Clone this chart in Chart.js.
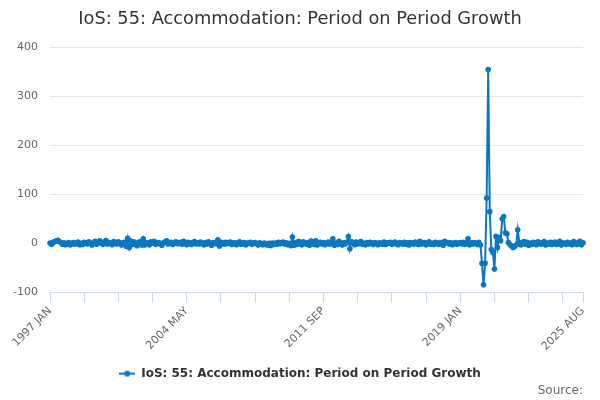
<!DOCTYPE html>
<html>
<head>
<meta charset="utf-8">
<script src="https://cdn.jsdelivr.net/npm/chart.js@4"></script>
<style>
  html, body { margin: 0; padding: 0; background: #fff; }
  #wrap { width: 600px; height: 400px; }
</style>
</head>
<body>
<div id="wrap"><canvas id="chart"></canvas></div>
<script>
const title = 'IoS: 55: Accommodation: Period on Period Growth';
const years = [1997, 1998, 1999, 2000, 2001, 2002, 2003, 2004, 2005, 2006, 2007, 2008, 2009, 2010,
  2011, 2012, 2013, 2014, 2015, 2016, 2017, 2018, 2019, 2020, 2021, 2022, 2023, 2024, 2025];
const months = ['JAN', 'FEB', 'MAR', 'APR', 'MAY', 'JUN', 'JUL', 'AUG', 'SEP', 'OCT', 'NOV', 'DEC'];
const lastMonth = 8; // series ends 2025 AUG

// monthly growth, one row per year
const growth = [
  1.0, -1.6, 2.4, 4.2, 5.0, 6.8, 4.1, 2.0, -1.2, 1.6, -2.4, -0.8,
  1.8, -3.0, 0.6, 2.2, -1.4, 0.8, 3.2, -2.2, 0.4, -1.8, 2.6, 1.2,
  -0.6, 3.6, 1.4, -2.8, 1.0, 4.4, -1.2, 2.0, 5.5, 0.8, -1.6, 3.0,
  6.0, -1.0, 2.2, 0.6, -2.4, 4.0, 1.6, -0.8, 3.4, 0.4, -3.2, 1.8,
  2.8, -5.5, 10.5, -8.0, 5.2, -2.0, 3.6, -1.4, -4.5, 2.4, 3.6, -2.8,
  9.6, -2.8, 2.0, 0.8, -2.6, 3.8, 1.2, 4.8, -1.6, 0.6, 2.2, -1.0,
  -3.4, 1.6, 3.0, 5.4, -0.8, 1.8, 2.6, -2.0, 1.2, 3.6, -0.4, 1.4,
  2.4, -1.2, 4.6, 0.2, -2.2, 2.8, 1.0, -1.8, 2.0, 4.0, -0.6, 1.6,
  -0.8, 3.2, 0.4, -2.6, 1.8, -1.0, 3.4, 0.8, -3.6, 2.2, 1.2, -0.4,
  7.8, -5.2, 2.4, 1.0, -1.4, 2.6, -0.4, 1.8, 3.0, -2.0, 0.8, 1.6,
  -2.4, 1.4, 3.8, -1.2, 0.6, 2.0, -3.0, 1.2, 0.4, 2.8, -1.6, 1.0,
  2.2, -0.6, -3.2, 1.6, -0.8, -2.4, 1.0, -1.8, -2.8, 0.6, -4.0, 1.2,
  -2.0, 0.8, -1.4, 2.4, -0.4, 1.8, 3.0, -1.0, 1.6, -2.2, 0.6, -4.2,
  13.5, -3.4, 2.0, -1.6, 4.4, 1.2, -2.6, 3.6, 0.8, -1.2, 2.2, -3.5,
  5.0, 0.4, -1.8, 5.6, -2.8, 1.4, 2.6, -1.0, 1.8, -2.4, 0.8, 3.2,
  -1.4, 2.0, 9.5, -3.4, 1.2, -2.0, 4.8, 1.0, -3.2, 1.6, -0.6, 2.4,
  14.2, -10.5, 4.0, 1.6, -2.2, 3.0, -0.8, 1.8, 4.2, -1.6, 0.6, -2.6,
  2.0, -1.0, 2.8, 0.4, -1.8, 2.2, 1.2, -2.4, 1.6, 0.6, -1.2, 3.0,
  -2.0, 1.4, 0.8, 2.4, -1.6, 1.0, 3.2, -0.6, -2.2, 1.8, 0.4, -1.0,
  2.6, -1.2, 1.6, -2.8, 2.0, 0.6, -1.4, 3.0, 0.2, -1.8, 4.4, -0.8,
  1.2, 2.2, -2.6, 0.8, 3.6, -1.2, 0.4, -2.0, 2.4, 1.0, -1.6, 1.8,
  -1.0, -3.6, 4.8, 1.4, 2.2, -0.8, 1.6, -2.4, 0.6, 2.0, -1.2, 0.4,
  1.8, -0.6, 2.8, -1.6, 1.0, 9.8, -3.0, 1.4, -1.0, 2.2, 0.4, -1.8,
  2.4, -3.0, -40.5, -84.0, -40.0, 93.0, 355.0, 65.0, -12.0, -18.0, -52.0, 15.0,
  -8.0, 12.0, 6.0, 50.0, 55.0, 22.0, 20.0, 2.0, -2.0, -5.0, -8.0, -6.0,
  -3.0, 28.0, 2.0, -3.0, 1.6, 4.0, -1.2, 2.4, -3.6, 0.8, -1.8, 2.6,
  1.0, -2.2, 3.6, 0.6, -1.4, 2.0, 4.2, -2.8, 1.2, -0.8, 2.4, -1.8,
  1.6, 3.0, -2.0, 0.8, 4.6, -3.2, 1.4, 0.4, -1.6, 2.8, -0.6, 1.2,
  -2.4, 4.0, 1.0, -1.8, 2.2, 4.8, -2.6, 1.6
];

const labels = [];
years.forEach((y, i) => {
  const count = i === years.length - 1 ? lastMonth : 12;
  for (let m = 0; m < count; m++) labels.push(y + ' ' + months[m]);
});

const blue = '#0b77c0';
const fontFamily = '"DejaVu Sans", sans-serif';

// legend symbol: short line with a dot in the middle
const icon = document.createElement('canvas');
icon.width = 16; icon.height = 10;
const ic = icon.getContext('2d');
ic.strokeStyle = blue; ic.lineWidth = 2;
ic.beginPath(); ic.moveTo(0, 5); ic.lineTo(16, 5); ic.stroke();
ic.fillStyle = blue;
ic.beginPath(); ic.arc(8, 5, 3, 0, Math.PI * 2); ic.fill();

const tickEvery = 22;
const labelEvery = 88;

new Chart(document.getElementById('chart'), {
  type: 'line',
  data: {
    labels: labels,
    datasets: [{
      label: title,
      data: growth,
      borderColor: blue,
      backgroundColor: blue,
      borderWidth: 2,
      pointRadius: 1.8,
      pointHoverRadius: 3,
      tension: 0
    }]
  },
  options: {
    responsive: true,
    maintainAspectRatio: false,
    animation: false,
    layout: { padding: { left: 17, right: 17, top: 3, bottom: 2 } },
    plugins: {
      title: {
        display: true,
        text: title,
        color: '#333333',
        font: { family: fontFamily, size: 17.8, weight: 'normal' },
        padding: { top: 6, bottom: 17 }
      },
      subtitle: {
        display: true,
        text: 'Source:',
        position: 'bottom',
        align: 'end',
        color: '#666666',
        font: { family: fontFamily, size: 12, weight: 'normal' },
        padding: { top: -6, bottom: 0 }
      },
      legend: {
        position: 'bottom',
        labels: {
          usePointStyle: true,
          pointStyle: icon,
          pointStyleWidth: 16,
          color: '#333333',
          font: { family: fontFamily, size: 12, weight: 'bold' },
          padding: 0
        }
      },
      tooltip: { enabled: false }
    },
    scales: {
      x: {
        type: 'category',
        offset: false,
        border: { color: '#ccd6eb' },
        grid: { drawOnChartArea: false, drawTicks: true, tickLength: 10, color: '#ccd6eb' },
        afterBuildTicks: scale => {
          const n = labels.length;
          scale.ticks = scale.ticks.filter(t => t.value % tickEvery === 0 || t.value === n - 1);
        },
        afterFit: scale => { scale.height = 75; },
        ticks: {
          autoSkip: false,
          maxRotation: 45,
          minRotation: 45,
          color: '#666666',
          font: { family: fontFamily, size: 11 },
          padding: 2,
          callback: value => (value % labelEvery === 0 || value === labels.length - 1) ? labels[value] : ''
        }
      },
      y: {
        min: -100,
        max: 400,
        border: { display: false },
        grid: { color: '#e6e6e6', drawTicks: false },
        afterFit: scale => {
          scale.width = 33;
          // let "-100" run past the narrow axis box instead of being clipped
          scale._computeLabelArea = () => undefined;
        },
        ticks: {
          stepSize: 100,
          color: '#666666',
          font: { family: fontFamily, size: 11 },
          padding: 12
        }
      }
    }
  }
});
</script>
</body>
</html>
